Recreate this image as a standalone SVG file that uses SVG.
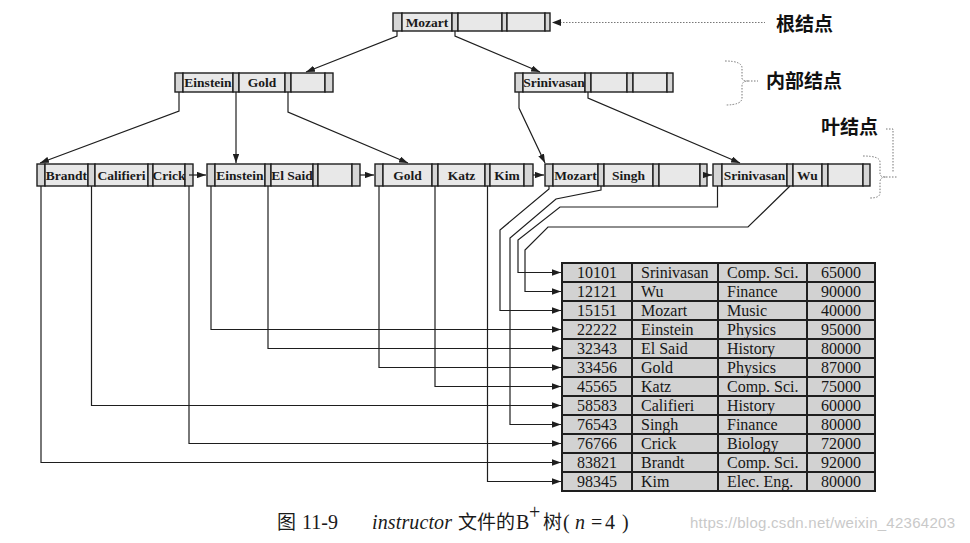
<svg xmlns="http://www.w3.org/2000/svg" width="970" height="543" viewBox="0 0 970 543">
<style>
.ptr{fill:#d6d6d6;stroke:#1e1e1e;stroke-width:1.4}
.key{fill:#e8e8e8;stroke:#1e1e1e;stroke-width:1.4}
.kt{font-family:"Liberation Serif",serif;font-weight:bold;font-size:13.5px;text-anchor:middle;fill:#1a1a1a}
.c{fill:none;stroke:#1e1e1e;stroke-width:1.2}
.dot{fill:none;stroke:#777;stroke-width:1;stroke-dasharray:1.5 1.5}
.cell{fill:#d2d2d2;stroke:#1e1e1e;stroke-width:2}
.tt{font-family:"Liberation Serif",serif;font-size:16px;fill:#161616}
.mid{text-anchor:middle}
.lbl{font-family:"Noto Sans CJK SC","Noto Sans",sans-serif;font-weight:bold;font-size:19px;fill:#111}
.cap{font-family:"Noto Sans CJK SC",sans-serif;font-size:19px;fill:#1a1a1a}
.capl{font-family:"Liberation Serif",serif;font-size:20px;fill:#1a1a1a}
</style>
<defs>
<marker id="ah" viewBox="0 0 10 7" refX="10" refY="3.5" markerWidth="9" markerHeight="6.3" orient="auto" markerUnits="userSpaceOnUse"><path d="M0,0 L10,3.5 L0,7 z" fill="#1e1e1e"/></marker>
</defs>
<rect width="970" height="543" fill="#fff"/>

<!-- root -->
<g id="n-root">
<rect class="ptr" x="393" y="13" width="9" height="18"/>
<rect class="key" x="402" y="13" width="50" height="18"/>
<rect class="ptr" x="452" y="13" width="6" height="18"/>
<rect class="key" x="458" y="13" width="44" height="18"/>
<rect class="ptr" x="502" y="13" width="5" height="18"/>
<rect class="key" x="507" y="13" width="38" height="18"/>
<rect class="ptr" x="545" y="13" width="5" height="18"/>
<text class="kt" x="427" y="26.5">Mozart</text>
</g>

<!-- internal nodes -->
<g id="n-i1">
<rect class="ptr" x="175" y="73" width="8" height="19"/>
<rect class="key" x="183" y="73" width="50" height="19"/>
<rect class="ptr" x="233" y="73" width="6" height="19"/>
<rect class="key" x="239" y="73" width="46" height="19"/>
<rect class="ptr" x="285" y="73" width="6" height="19"/>
<rect class="key" x="291" y="73" width="34" height="19"/>
<rect class="ptr" x="325" y="73" width="8" height="19"/>
<text class="kt" x="208" y="87">Einstein</text>
<text class="kt" x="262" y="87">Gold</text>
</g>
<g id="n-i2">
<rect class="ptr" x="515" y="73" width="8" height="19"/>
<rect class="key" x="523" y="73" width="62" height="19"/>
<rect class="ptr" x="585" y="73" width="6" height="19"/>
<rect class="key" x="591" y="73" width="36" height="19"/>
<rect class="ptr" x="627" y="73" width="6" height="19"/>
<rect class="key" x="633" y="73" width="34" height="19"/>
<rect class="ptr" x="667" y="73" width="6" height="19"/>
<text class="kt" x="554" y="87">Srinivasan</text>
</g>

<!-- leaves -->
<g id="n-l1">
<rect class="ptr" x="37" y="164" width="8" height="22"/>
<rect class="key" x="45" y="164" width="43" height="22"/>
<rect class="ptr" x="88" y="164" width="7" height="22"/>
<rect class="key" x="95" y="164" width="53" height="22"/>
<rect class="ptr" x="148" y="164" width="5" height="22"/>
<rect class="key" x="153" y="164" width="32" height="22"/>
<rect class="ptr" x="185" y="164" width="8" height="22"/>
<text class="kt" x="66.5" y="179.5">Brandt</text>
<text class="kt" x="121.5" y="179.5">Califieri</text>
<text class="kt" x="169" y="179.5">Crick</text>
</g>
<g id="n-l2">
<rect class="ptr" x="207" y="164" width="8" height="22"/>
<rect class="key" x="215" y="164" width="50" height="22"/>
<rect class="ptr" x="265" y="164" width="6" height="22"/>
<rect class="key" x="271" y="164" width="42" height="22"/>
<rect class="ptr" x="313" y="164" width="5" height="22"/>
<rect class="key" x="318" y="164" width="34" height="22"/>
<rect class="ptr" x="352" y="164" width="8" height="22"/>
<text class="kt" x="240" y="179.5">Einstein</text>
<text class="kt" x="292" y="179.5">El Said</text>
</g>
<g id="n-l3">
<rect class="ptr" x="375" y="164" width="8" height="22"/>
<rect class="key" x="383" y="164" width="49" height="22"/>
<rect class="ptr" x="432" y="164" width="6" height="22"/>
<rect class="key" x="438" y="164" width="47" height="22"/>
<rect class="ptr" x="485" y="164" width="5" height="22"/>
<rect class="key" x="490" y="164" width="34" height="22"/>
<rect class="ptr" x="524" y="164" width="9" height="22"/>
<text class="kt" x="407.5" y="179.5">Gold</text>
<text class="kt" x="461.5" y="179.5">Katz</text>
<text class="kt" x="507" y="179.5">Kim</text>
</g>
<g id="n-l4">
<rect class="ptr" x="545" y="164" width="8" height="22"/>
<rect class="key" x="553" y="164" width="45" height="22"/>
<rect class="ptr" x="598" y="164" width="6" height="22"/>
<rect class="key" x="604" y="164" width="49" height="22"/>
<rect class="ptr" x="653" y="164" width="6" height="22"/>
<rect class="key" x="659" y="164" width="41" height="22"/>
<rect class="ptr" x="700" y="164" width="7" height="22"/>
<text class="kt" x="575.5" y="179.5">Mozart</text>
<text class="kt" x="628.5" y="179.5">Singh</text>
</g>
<g id="n-l5">
<rect class="ptr" x="713" y="164" width="9" height="22"/>
<rect class="key" x="722" y="164" width="65" height="22"/>
<rect class="ptr" x="787" y="164" width="6" height="22"/>
<rect class="key" x="793" y="164" width="29" height="22"/>
<rect class="ptr" x="822" y="164" width="6" height="22"/>
<rect class="key" x="828" y="164" width="35" height="22"/>
<rect class="ptr" x="863" y="164" width="7" height="22"/>
<text class="kt" x="754.5" y="179.5">Srinivasan</text>
<text class="kt" x="807.5" y="179.5">Wu</text>
</g>

<!-- table -->
<g id="file-table">
<g id="rows">
<rect class="cell" x="562" y="263" width="70" height="19"/><rect class="cell" x="632" y="263" width="86" height="19"/><rect class="cell" x="718" y="263" width="89" height="19"/><rect class="cell" x="807" y="263" width="68" height="19"/>
<rect class="cell" x="562" y="282" width="70" height="19"/><rect class="cell" x="632" y="282" width="86" height="19"/><rect class="cell" x="718" y="282" width="89" height="19"/><rect class="cell" x="807" y="282" width="68" height="19"/>
<rect class="cell" x="562" y="301" width="70" height="19"/><rect class="cell" x="632" y="301" width="86" height="19"/><rect class="cell" x="718" y="301" width="89" height="19"/><rect class="cell" x="807" y="301" width="68" height="19"/>
<rect class="cell" x="562" y="320" width="70" height="19"/><rect class="cell" x="632" y="320" width="86" height="19"/><rect class="cell" x="718" y="320" width="89" height="19"/><rect class="cell" x="807" y="320" width="68" height="19"/>
<rect class="cell" x="562" y="339" width="70" height="19"/><rect class="cell" x="632" y="339" width="86" height="19"/><rect class="cell" x="718" y="339" width="89" height="19"/><rect class="cell" x="807" y="339" width="68" height="19"/>
<rect class="cell" x="562" y="358" width="70" height="19"/><rect class="cell" x="632" y="358" width="86" height="19"/><rect class="cell" x="718" y="358" width="89" height="19"/><rect class="cell" x="807" y="358" width="68" height="19"/>
<rect class="cell" x="562" y="377" width="70" height="19"/><rect class="cell" x="632" y="377" width="86" height="19"/><rect class="cell" x="718" y="377" width="89" height="19"/><rect class="cell" x="807" y="377" width="68" height="19"/>
<rect class="cell" x="562" y="396" width="70" height="19"/><rect class="cell" x="632" y="396" width="86" height="19"/><rect class="cell" x="718" y="396" width="89" height="19"/><rect class="cell" x="807" y="396" width="68" height="19"/>
<rect class="cell" x="562" y="415" width="70" height="19"/><rect class="cell" x="632" y="415" width="86" height="19"/><rect class="cell" x="718" y="415" width="89" height="19"/><rect class="cell" x="807" y="415" width="68" height="19"/>
<rect class="cell" x="562" y="434" width="70" height="19"/><rect class="cell" x="632" y="434" width="86" height="19"/><rect class="cell" x="718" y="434" width="89" height="19"/><rect class="cell" x="807" y="434" width="68" height="19"/>
<rect class="cell" x="562" y="453" width="70" height="19"/><rect class="cell" x="632" y="453" width="86" height="19"/><rect class="cell" x="718" y="453" width="89" height="19"/><rect class="cell" x="807" y="453" width="68" height="19"/>
<rect class="cell" x="562" y="472" width="70" height="19"/><rect class="cell" x="632" y="472" width="86" height="19"/><rect class="cell" x="718" y="472" width="89" height="19"/><rect class="cell" x="807" y="472" width="68" height="19"/>
</g>
<g class="tt">
<text class="mid" x="597" y="278">10101</text><text x="641" y="278">Srinivasan</text><text x="727" y="278">Comp. Sci.</text><text class="mid" x="841" y="278">65000</text>
<text class="mid" x="597" y="297">12121</text><text x="641" y="297">Wu</text><text x="727" y="297">Finance</text><text class="mid" x="841" y="297">90000</text>
<text class="mid" x="597" y="316">15151</text><text x="641" y="316">Mozart</text><text x="727" y="316">Music</text><text class="mid" x="841" y="316">40000</text>
<text class="mid" x="597" y="335">22222</text><text x="641" y="335">Einstein</text><text x="727" y="335">Physics</text><text class="mid" x="841" y="335">95000</text>
<text class="mid" x="597" y="354">32343</text><text x="641" y="354">El Said</text><text x="727" y="354">History</text><text class="mid" x="841" y="354">80000</text>
<text class="mid" x="597" y="373">33456</text><text x="641" y="373">Gold</text><text x="727" y="373">Physics</text><text class="mid" x="841" y="373">87000</text>
<text class="mid" x="597" y="392">45565</text><text x="641" y="392">Katz</text><text x="727" y="392">Comp. Sci.</text><text class="mid" x="841" y="392">75000</text>
<text class="mid" x="597" y="411">58583</text><text x="641" y="411">Califieri</text><text x="727" y="411">History</text><text class="mid" x="841" y="411">60000</text>
<text class="mid" x="597" y="430">76543</text><text x="641" y="430">Singh</text><text x="727" y="430">Finance</text><text class="mid" x="841" y="430">80000</text>
<text class="mid" x="597" y="449">76766</text><text x="641" y="449">Crick</text><text x="727" y="449">Biology</text><text class="mid" x="841" y="449">72000</text>
<text class="mid" x="597" y="468">83821</text><text x="641" y="468">Brandt</text><text x="727" y="468">Comp. Sci.</text><text class="mid" x="841" y="468">92000</text>
<text class="mid" x="597" y="487">98345</text><text x="641" y="487">Kim</text><text x="727" y="487">Elec. Eng.</text><text class="mid" x="841" y="487">80000</text>
</g>
</g>

<!-- connectors -->
<g id="connectors" class="c">
<path marker-end="url(#ah)" d="M397,31 V36 L306,72"/>
<path marker-end="url(#ah)" d="M455,31 V36 L540,72"/>
<path marker-end="url(#ah)" d="M179,92 V111 L40,163"/>
<path marker-end="url(#ah)" d="M236,92 V163"/>
<path marker-end="url(#ah)" d="M288,92 V112 L408,163"/>
<path marker-end="url(#ah)" d="M519,92 V108 L545,163"/>
<path marker-end="url(#ah)" d="M588,92 V98 L740,163"/>
<path marker-end="url(#ah)" d="M189,175 H206"/>
<path marker-end="url(#ah)" d="M360,175 H374"/>
<path marker-end="url(#ah)" d="M533,175 H544"/>
<path marker-end="url(#ah)" d="M707,175 H712"/>
<path marker-end="url(#ah)" d="M41,186 V462.5 H561"/>
<path marker-end="url(#ah)" d="M91.5,186 V405.5 H561"/>
<path marker-end="url(#ah)" d="M189,186 V443.5 H561"/>
<path marker-end="url(#ah)" d="M211,186 V329.5 H561"/>
<path marker-end="url(#ah)" d="M268,186 V348.5 H561"/>
<path marker-end="url(#ah)" d="M379,186 V367.5 H561"/>
<path marker-end="url(#ah)" d="M435,186 V386.5 H561"/>
<path marker-end="url(#ah)" d="M487.5,186 V481.5 H561"/>
<path marker-end="url(#ah)" d="M549,186 V189 L500,230 V310.5 H561"/>
<path marker-end="url(#ah)" d="M601,186 V190 L556,199 L510,238 V424.5 H561"/>
<path marker-end="url(#ah)" d="M717.5,186 V207 H560 L518,240 V272.5 H561"/>
<path marker-end="url(#ah)" d="M790,186 L748,227 H548 L525,250 V291.5 H561"/>
</g>

<!-- labels -->
<g id="label-root">
<path class="dot" d="M560,22.5 H765"/>
<path d="M552,22.5 L561,19 L561,26 z" fill="#1e1e1e"/>
<text class="lbl" x="776" y="31">根结点</text>
</g>
<g id="label-internal">
<path class="dot" d="M725,61 Q742,61 742,68 V78 Q742,81 748,81 Q742,81 742,86 V98 Q742,105 725,105 M748,81 H758"/>
<text class="lbl" x="766" y="88">内部结点</text>
</g>
<g id="label-leaf">
<path class="dot" d="M863,156 Q880,156 880,162 V174 Q880,177 886,177 Q880,177 880,182 V193 Q880,198 870,198 M886,177 H898 M886,129 H893 V172"/>
<text class="lbl" x="821" y="134">叶结点</text>
</g>

<!-- caption -->
<g id="caption">
<text class="cap" x="277" y="529">图</text>
<text class="capl" x="302" y="529">11-9</text>
<text class="capl" x="372" y="529" font-style="italic" textLength="80">instructor</text>
<text class="cap" x="458" y="529">文件的</text>
<text class="capl" x="516" y="529">B</text>
<text class="capl" x="529" y="519" font-size="10">+</text>
<text class="cap" x="543" y="529">树</text>
<text class="capl" x="563" y="529">(</text>
<text class="capl" x="575" y="529" font-style="italic">n</text>
<text class="capl" x="591" y="529">=</text>
<text class="capl" x="605" y="529">4</text>
<text class="capl" x="622" y="529">)</text>
<text x="690" y="528" font-family="Liberation Sans, sans-serif" font-size="15" fill="#c9c9c9" textLength="265">https://blog.csdn.net/weixin_42364203</text>
</g>
</svg>
